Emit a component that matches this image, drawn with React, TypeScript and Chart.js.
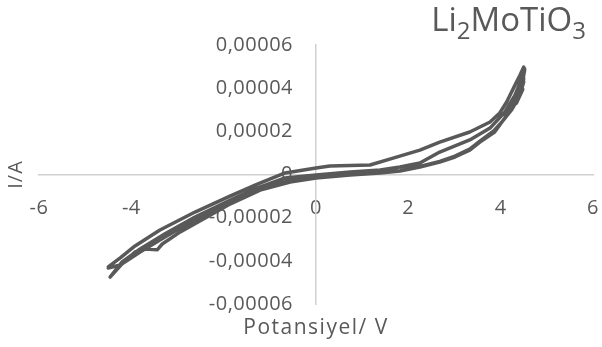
import React, { useEffect, useRef } from "react";
import { Chart, registerables } from "chart.js";

Chart.register(...registerables);

// ---- Data (potential in V, current in A) ----
const cycle1ForwardV = [-4.5, -4.24, -3.92, -3.38, -2.62, -1.9, -1.32, -0.67, 0, 0.3, 1.17, 1.67, 2.25, 2.68, 3.33, 3.77, 3.98, 4.13, 4.31, 4.42, 4.5];
const cycle1ForwardI = [-4.28e-5, -3.86e-5, -3.31e-5, -2.57e-5, -1.74e-5, -1.04e-5, -0.49e-5, 0.07e-5, 0.3e-5, 0.39e-5, 0.44e-5, 0.76e-5, 1.13e-5, 1.5e-5, 1.97e-5, 2.43e-5, 2.85e-5, 3.36e-5, 4.14e-5, 4.61e-5, 4.98e-5];

const cycle1TipV = [4.46, 4.52, 4.43, 4.5, 4.36, 4.47];
const cycle1TipI = [4.15e-5, 4.85e-5, 3.85e-5, 4.45e-5, 3.55e-5, 4.05e-5];

const cycle1ReverseV = [4.31, 4.09, 3.87, 3.55, 3.33, 3.01, 2.68, 2.25, 1.82, 1.39, 0.74, 0, -0.56, -1.21, -1.9, -2.4, -2.94, -3.33, -3.44, -3.7, -3.92, -4.2, -4.46];
const cycle1ReverseI = [3.45e-5, 2.62e-5, 1.97e-5, 1.5e-5, 1.13e-5, 0.81e-5, 0.58e-5, 0.35e-5, 0.16e-5, 0.07e-5, -0.02e-5, -0.16e-5, -0.35e-5, -0.72e-5, -1.41e-5, -2.01e-5, -2.66e-5, -3.22e-5, -3.49e-5, -3.45e-5, -3.59e-5, -4.14e-5, -4.75e-5];

const cycle2ForwardV = [-4.2, -3.81, -3.27, -2.62, -1.9, -1.32, -0.67, 0, 0.74, 1.39, 1.82, 2.25, 2.68, 3.33, 3.77, 4.09, 4.31, 4.46];
const cycle2ForwardI = [-4.05e-5, -3.45e-5, -2.75e-5, -1.97e-5, -1.23e-5, -0.67e-5, -0.16e-5, -0.02e-5, 0.12e-5, 0.21e-5, 0.35e-5, 0.53e-5, 1.04e-5, 1.6e-5, 2.15e-5, 2.89e-5, 3.68e-5, 4.47e-5];

const cycle2TipV = [4.52, 4.42, 4.5, 4.34, 4.48];
const cycle2TipI = [4.9e-5, 3.7e-5, 4.3e-5, 3.3e-5, 3.95e-5];

const cycle2ReverseV = [4.4, 4.24, 4.05, 3.85, 3.55, 3.33, 3.01, 2.68, 2.25, 1.82, 1.39, 0.74, 0, -0.56, -1.21, -1.9, -2.4, -2.94, -3.38, -3.81, -4.24, -4.5];
const cycle2ReverseI = [3.6e-5, 3.0e-5, 2.5e-5, 2.02e-5, 1.55e-5, 1.18e-5, 0.85e-5, 0.61e-5, 0.37e-5, 0.18e-5, 0.08e-5, -0.01e-5, -0.13e-5, -0.27e-5, -0.63e-5, -1.32e-5, -1.88e-5, -2.48e-5, -3.03e-5, -3.59e-5, -4.19e-5, -4.33e-5];

const xTickValues = [-6, -4, 0, 2, 4, 6];
const yTickValues = [-6e-5, -4e-5, -2e-5, 0, 2e-5, 4e-5, 6e-5];

const chartTitleParts = [
  { text: "Li", sub: false },
  { text: "2", sub: true },
  { text: "MoTiO", sub: false },
  { text: "3", sub: true },
];
const xAxisTitle = "Potansiyel/ V";
const yAxisTitle = "I/A";

const TEXT_COLOR = "#595959";
const FONT = "'Open Sans', sans-serif";

function zip(vs: number[], is: number[]) {
  return vs.map((v, k) => ({ x: v, y: is[k] }));
}

function formatY(v: number) {
  if (Math.abs(v) < 1e-12) return "0";
  return v.toFixed(5).replace(".", ",");
}

const zeroFit = (scale: any) => {
  scale.paddingLeft = 0;
  scale.paddingRight = 0;
  scale.paddingTop = 0;
  scale.paddingBottom = 0;
  if (scale.isHorizontal()) scale.height = 0;
  else scale.width = 0;
};

const titlesPlugin = {
  id: "customTitles",
  beforeDraw(chart: any) {
    chart.ctx.letterSpacing = "0.5px";
  },
  afterDraw(chart: any) {
    const ctx = chart.ctx as CanvasRenderingContext2D;
    const area = chart.chartArea;
    const xs = chart.scales.x;
    ctx.save();
    ctx.fillStyle = TEXT_COLOR;

    // Main title with subscripts, right aligned
    const mainFont = `33px ${FONT}`;
    const subFont = `24px ${FONT}`;
    ctx.letterSpacing = "0px";
    let total = 0;
    for (const p of chartTitleParts) {
      ctx.font = p.sub ? subFont : mainFont;
      total += ctx.measureText(p.text).width;
    }
    let cx = 586 - total;
    const baseY = 31;
    ctx.textBaseline = "alphabetic";
    ctx.textAlign = "left";
    for (const p of chartTitleParts) {
      ctx.font = p.sub ? subFont : mainFont;
      ctx.fillText(p.text, cx, p.sub ? baseY + 8 : baseY);
      cx += ctx.measureText(p.text).width;
    }

    // X axis title
    ctx.font = `21px ${FONT}`;
    ctx.letterSpacing = "1.5px";
    ctx.textAlign = "center";
    ctx.textBaseline = "alphabetic";
    ctx.fillText(xAxisTitle, xs.getPixelForValue(0), area.bottom + 30);

    // Y axis title (rotated)
    ctx.font = `20px ${FONT}`;
    ctx.letterSpacing = "1px";
    ctx.translate(16, chart.scales.y.getPixelForValue(0));
    ctx.rotate(-Math.PI / 2);
    ctx.textAlign = "center";
    ctx.textBaseline = "middle";
    ctx.fillText(yAxisTitle, 0, 0);
    ctx.restore();
  },
};

export default function App() {
  const canvasRef = useRef<HTMLCanvasElement | null>(null);

  useEffect(() => {
    if (!canvasRef.current) return;
    const points = [
      ...zip(cycle1ForwardV, cycle1ForwardI),
      ...zip(cycle1TipV, cycle1TipI),
      ...zip(cycle1ReverseV, cycle1ReverseI),
      ...zip(cycle2ForwardV, cycle2ForwardI),
      ...zip(cycle2TipV, cycle2TipI),
      ...zip(cycle2ReverseV, cycle2ReverseI),
    ];
    const chart = new Chart(canvasRef.current, {
      type: "scatter",
      data: {
        datasets: [
          {
            data: points,
            showLine: true,
            borderColor: "#595959",
            backgroundColor: "#595959",
            borderWidth: 3.5,
            pointRadius: 0,
            tension: 0,
            borderJoinStyle: "round",
            borderCapStyle: "round",
          } as any,
        ],
      },
      options: {
        responsive: false,
        animation: false,
        layout: { padding: { left: 39, right: 9, top: 45, bottom: 43 } },
        plugins: {
          legend: { display: false },
          tooltip: { enabled: false },
          title: { display: false },
        },
        scales: {
          x: {
            type: "linear",
            min: -6,
            max: 6,
            position: "center",
            afterBuildTicks: (scale: any) => {
              scale.ticks = xTickValues.map((v) => ({ value: v }));
            },
            afterFit: zeroFit,
            ticks: {
              color: TEXT_COLOR,
              font: { family: FONT, size: 20 },
              padding: 22,
              maxRotation: 0,
              autoSkip: false,
              callback: (v: any) => String(v),
            },
            grid: { display: false, drawTicks: false },
            border: { display: true, color: "#d0d0d0", width: 1.5 },
          },
          y: {
            type: "linear",
            min: -6e-5,
            max: 6e-5,
            position: "center",
            afterBuildTicks: (scale: any) => {
              scale.ticks = yTickValues.map((v) => ({ value: v }));
            },
            afterFit: zeroFit,
            ticks: {
              color: TEXT_COLOR,
              font: { family: FONT, size: 20 },
              padding: 23,
              autoSkip: false,
              callback: (v: any) => formatY(Number(v)),
            },
            grid: { display: false, drawTicks: false },
            border: { display: true, color: "#d0d0d0", width: 1.5 },
          },
        },
      } as any,
      plugins: [titlesPlugin],
    });
    return () => chart.destroy();
  }, []);

  return (
    <div style={{ position: "fixed", left: 0, top: 0, width: 602, height: 347, background: "#ffffff" }}>
      <canvas ref={canvasRef} width={602} height={347} style={{ display: "block" }} />
    </div>
  );
}
